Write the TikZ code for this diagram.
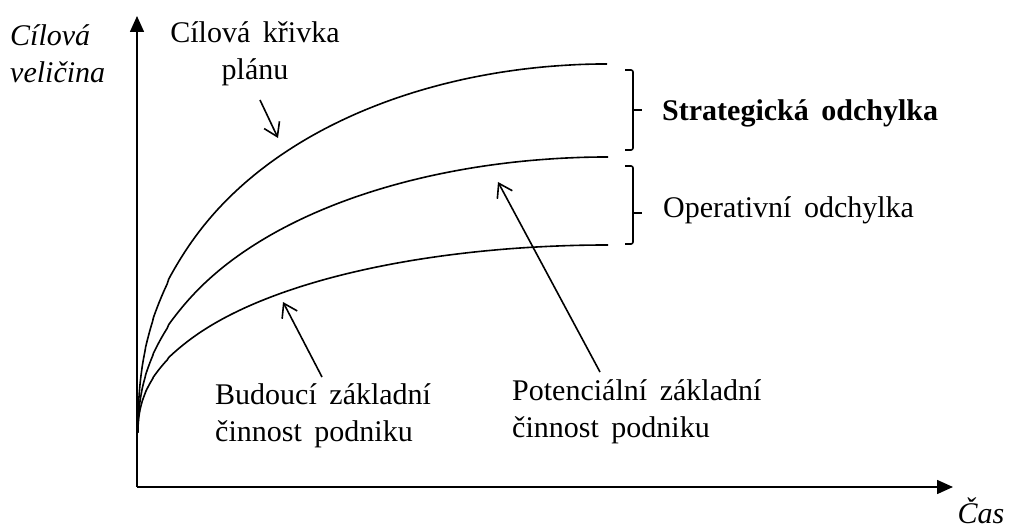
\documentclass[tikz,border=0pt]{standalone}
\usepackage{fontspec}
\setmainfont{Liberation Serif}
\usetikzlibrary{arrows.meta}
\newcommand{\wsp}{\spaceskip=0.42em plus 0.1em\relax}
\begin{document}
\begin{tikzpicture}[x=1pt,y=-1pt,
  lbl/.style={inner sep=0pt,font=\fontsize{30}{37}\selectfont\wsp},
  curve/.style={line width=1.6pt,line join=round},
  axis/.style={line width=1.6pt,-{Triangle[length=16pt,width=14pt]}},
  pointer/.style={line width=1.6pt,-{Straight Barb[length=13pt,width=17pt,line width=1.6pt]}},
  brace/.style={line width=1.6pt,rounded corners=2pt}]
\useasboundingbox (0,0) rectangle (1013,532);
% axes
\coordinate (O) at (137,487);
\coordinate (ytip) at (137,16);
\coordinate (xtip) at (953,487);
\draw[axis] (O) -- (ytip);
\draw[axis] (O) -- (xtip);
% curves
\coordinate (c0) at (138,432);
\draw[curve] (c0) -- plot[domain=0.001:1,samples=150,variable=\t] ({138+470*\t*\t},{432-368*(\t*\t*(2-\t*\t))^0.43});
\draw[curve] (c0) -- plot[domain=0.001:1,samples=150,variable=\t] ({138+471*\t*\t},{432-275*(\t*\t*(2-\t*\t))^0.46});
\draw[curve] (c0) -- plot[domain=0.001:1,samples=150,variable=\t] ({138+471*\t*\t},{432-187*(\t*\t*(2-\t*\t))^0.45});
% braces
\draw[brace] (625,70) -- (633,70) -- (633,150) -- (625,150);
\draw[line width=1.6pt] (633,110) -- (642,110);
\draw[brace] (625,166) -- (633,166) -- (633,244) -- (625,244);
\draw[line width=1.6pt] (633,213) -- (642,213);
% labels
\node[lbl,anchor=west,align=left,font=\fontsize{30}{37}\selectfont\itshape\wsp] (yl) at (10,54) {Cílová\\veličina};
\node[lbl,align=center] (plan) at (255,54) {Cílová křivka\\plánu};
\node[lbl,anchor=west,font=\fontsize{30}{37}\selectfont\bfseries\wsp] (strat) at (662,113) {Strategická odchylka};
\node[lbl,anchor=west] (oper) at (663,210) {Operativní odchylka};
\node[lbl,anchor=west,align=left] (bud) at (215,416) {Budoucí základní\\činnost podniku};
\node[lbl,anchor=west,align=left] (pot) at (512,412) {Potenciální základní\\činnost podniku};
\node[lbl,anchor=center,font=\fontsize{30}{37}\selectfont\itshape] (cas) at (981,511) {Čas};
% pointers
\coordinate (p1s) at (260,100); \coordinate (p1e) at (278,138);
\coordinate (p2s) at (600,372); \coordinate (p2e) at (498,182);
\coordinate (p3s) at (322,377); \coordinate (p3e) at (283,302);
\draw[pointer] (p1s) -- (p1e);
\draw[pointer] (p2s) -- (p2e);
\draw[pointer] (p3s) -- (p3e);
\end{tikzpicture}
\end{document}
